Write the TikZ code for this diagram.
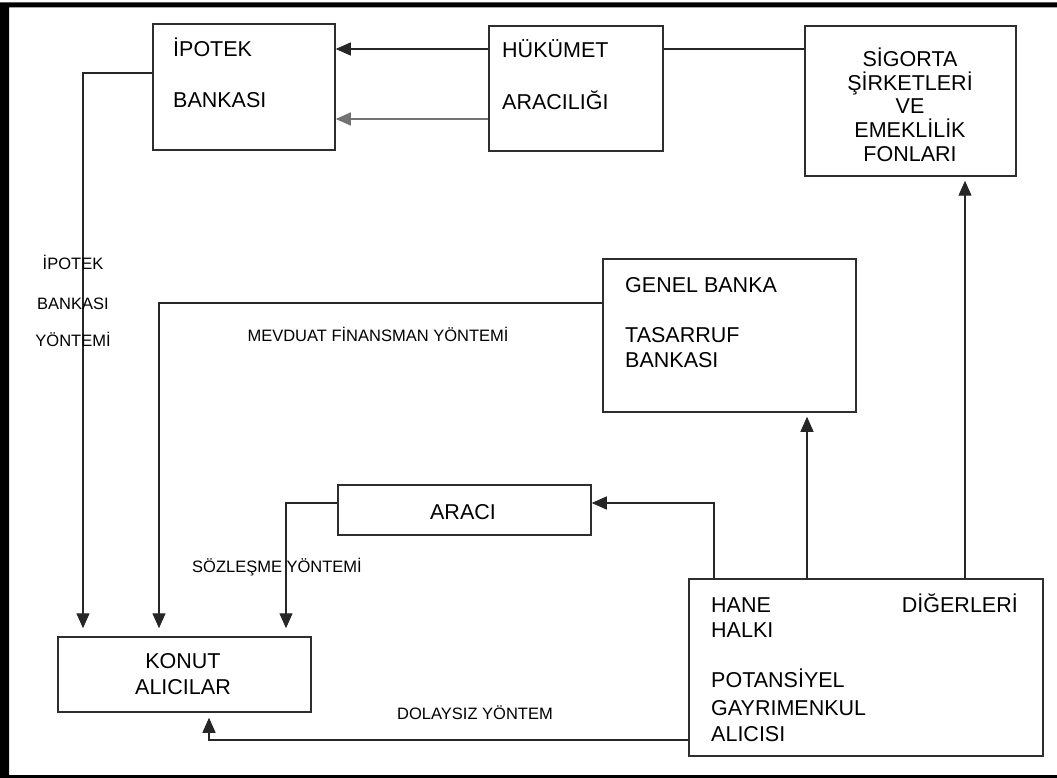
\documentclass[tikz,border=0pt]{standalone}
\usepackage{fontspec}
\setmainfont{Liberation Sans}
\usetikzlibrary{arrows.meta}
\begin{document}
\begin{tikzpicture}[x=1pt,y=-1pt,
  box/.style={draw=black!82, line width=1.5pt, rectangle, inner sep=0pt},
  wire/.style={draw=black!85, line width=1.3pt},
  arr/.style={wire, -{Triangle[length=15pt,width=13pt]}},
  txt/.style={font=\fontsize{21.5}{26}\selectfont, inner sep=0pt, anchor=base west},
  ctxt/.style={txt, anchor=base},
  lbl/.style={font=\fontsize{16.5}{20}\selectfont, inner sep=0pt, anchor=base}]
\useasboundingbox (0,0) rectangle (1057,778);
\clip (0,0) rectangle (1057,778);
% heavy outer frame
\fill[black, even odd rule] (0,2.5) rectangle (1075,790) (9,7.5) rectangle (1065,775);

% boxes
\node[box, minimum width=182pt, minimum height=126pt] (ipo) at (244,87) {};
\node[box, minimum width=174pt, minimum height=125pt] (huk) at (576,88.5) {};
\node[box, minimum width=211pt, minimum height=150pt] (sig) at (910.5,101) {};
\node[box, minimum width=253pt, minimum height=153pt] (gen) at (729.5,335.5) {};
\node[box, minimum width=253pt, minimum height=50pt] (ara) at (464.5,510) {};
\node[box, minimum width=253pt, minimum height=75pt] (kon) at (184.5,674.5) {};
\node[box, minimum width=354pt, minimum height=177pt] (hane) at (866,667.5) {};

% box texts
\node[txt] (ipo1) at (173,56.7) {İPOTEK};
\node[txt] (ipo2) at (173,107.7) {BANKASI};
\node[txt] (huk1) at (502,57.7) {HÜKÜMET};
\node[txt] (huk2) at (502,109.7) {ARACILIĞI};
\node[ctxt] (sig1) at (910,66.7) {SİGORTA};
\node[ctxt] (sig2) at (910,90.3) {ŞİRKETLERİ};
\node[ctxt] (sig3) at (910,113.9) {VE};
\node[ctxt] (sig4) at (910,137.5) {EMEKLİLİK};
\node[ctxt] (sig5) at (910,161.1) {FONLARI};
\node[txt] (gen1) at (625,292.7) {GENEL BANKA};
\node[txt] (gen2) at (625,342.7) {TASARRUF};
\node[txt] (gen3) at (625,367.7) {BANKASI};
\node[ctxt] (ara1) at (463,519.7) {ARACI};
\node[ctxt] (kon1) at (183,668.7) {KONUT};
\node[ctxt] (kon2) at (183,694.7) {ALICILAR};
\node[txt] (hane1) at (711,612.7) {HANE};
\node[txt] (hane2) at (711,637.7) {HALKI};
\node[txt] (hane3) at (711,687.7) {POTANSİYEL};
\node[txt] (hane4) at (711,715.7) {GAYRIMENKUL};
\node[txt] (hane5) at (711,741.2) {ALICISI};
\node[txt, anchor=base east] (dig) at (1018,612.7) {DİĞERLERİ};

% connectors
\draw[arr] (huk.west |- 0,49) -- (ipo.east |- 0,49);
\draw[arr, draw=black!55] (huk.west |- 0,119) -- (ipo.east |- 0,119);
\draw[wire] (huk.east |- 0,49) -- (sig.west |- 0,49);
\draw[arr, shorten >=8pt] (ipo.west |- 0,73) -| (kon.north -| 83,0);
\draw[arr, shorten >=8pt] (gen.west |- 0,303) -| (kon.north -| 159,0);
\draw[arr, shorten >=8pt] (ara.west |- 0,503) -| (kon.north -| 286,0);
\draw[arr] (hane.north -| 714,0) |- (ara.east |- 0,503);
\draw[arr, shorten >=4pt] (hane.north -| 807,0) -- (gen.south -| 807,0);
\draw[arr, shorten >=4pt] (hane.north -| 965,0) -- (sig.south -| 965,0);
\draw[arr, shorten >=5pt] (hane.west |- 0,740) -| (kon.south -| 209,0);

% method labels
\node[lbl] (l1) at (73,269.9) {İPOTEK};
\node[lbl] (l2) at (73,309.9) {BANKASI};
\node[lbl] (l3) at (73,346.9) {YÖNTEMİ};
\node[lbl] (l4) at (378,341.9) {MEVDUAT FİNANSMAN YÖNTEMİ};
\node[lbl] (l5) at (277,572.9) {SÖZLEŞME YÖNTEMİ};
\node[lbl] (l6) at (475,719.9) {DOLAYSIZ YÖNTEM};
\end{tikzpicture}
\end{document}
